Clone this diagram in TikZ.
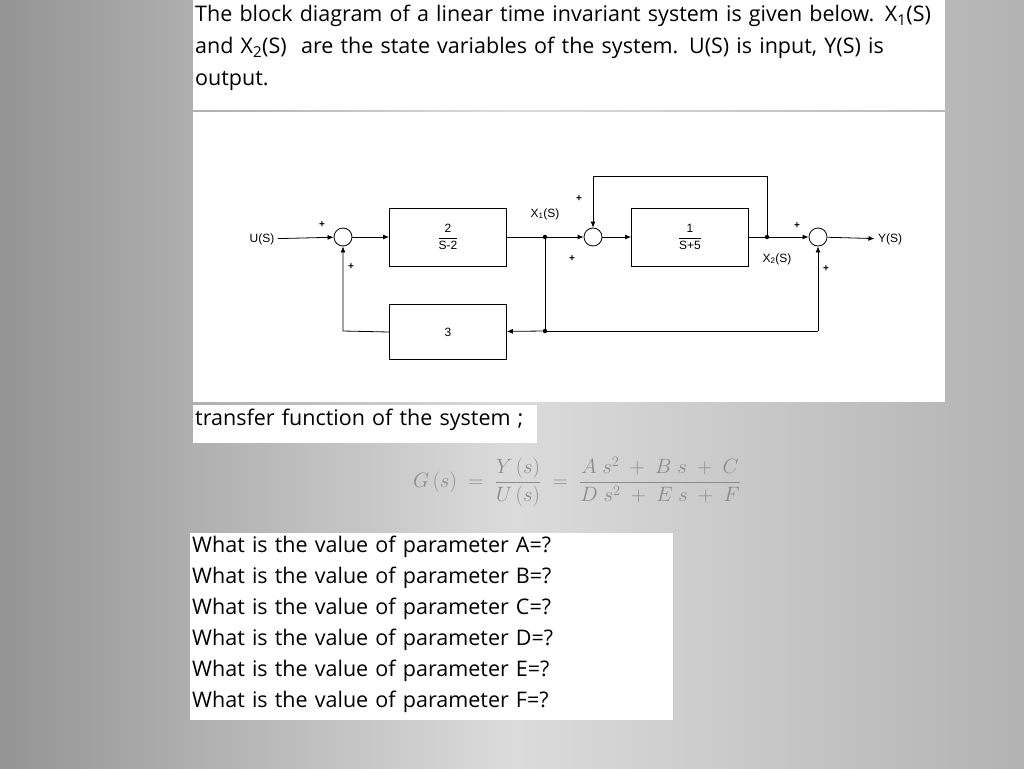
\documentclass[tikz,border=0pt]{standalone}
\usepackage{fontspec}
\setmainfont{Open Sans}
\newfontfamily\arial{Liberation Sans}
\usetikzlibrary{arrows.meta}
\newcommand{\blkfrac}[2]{$\displaystyle\frac{\mbox{\arial #1}}{\mbox{\arial #2}}$}
\begin{document}
\begin{tikzpicture}[x=1pt,y=-1pt,
 blk/.style={draw,line width=0.8pt,minimum width=117pt,minimum height=58pt,font=\arial\fontsize{12}{13}\selectfont},
 sumn/.style={draw,circle,line width=0.8pt,minimum size=18pt,inner sep=0pt},
 lab/.style={font=\arial\fontsize{12}{13}\selectfont},
 pl/.style={font=\arial\bfseries\fontsize{10}{10}\selectfont,inner sep=0pt},
 sig/.style={line width=0.8pt,-{Latex[length=6pt,width=5pt]}},
 ln/.style={line width=0.8pt},
 dotn/.style={circle,fill,inner sep=0pt,minimum size=4.5pt},
 wbox/.style={fill=white,draw=none},
 txt/.style={font=\fontsize{21.5}{32}\selectfont,align=left,anchor=north west,inner sep=0pt,text width=760pt}]
\useasboundingbox (0,0) rectangle (1024,768);
\shade[left color=black!42,right color=black!14] (0,0) rectangle (512,768);
\shade[left color=black!14,right color=black!30] (512,0) rectangle (1024,768);
\fill[wbox] (193,0) rectangle (945,110);
\fill[wbox] (193,112) rectangle (945,402);
\fill[wbox] (193,405) rectangle (537,443);
\fill[wbox] (190,533) rectangle (673,720);
\node[txt] (t1) at (195,5) {The block diagram of a linear time invariant system is given below. X\textsubscript{1}(S)\\and X\textsubscript{2}(S)\ \ are the state variables of the system. U(S) is input, Y(S) is\\output.};
\node[txt,text width=340pt] (t2) at (195,409) {transfer function of the system ;};
\node[txt,text width=480pt,font=\fontsize{21.5}{31}\selectfont] (t3) at (192,536) {What is the value of parameter A=?\\What is the value of parameter B=?\\What is the value of parameter C=?\\What is the value of parameter D=?\\What is the value of parameter E=?\\What is the value of parameter F=?};
\node[font=\rmfamily\fontsize{22}{24}\selectfont,text=black!45] (eq) at (577,482) {$\displaystyle G\,(s)\;=\;\frac{Y\,(s)}{U\,(s)}\;=\;\frac{A\;s^2\;+\;B\;s\;+\;C}{D\;s^2\;+\;E\;s\;+\;F}$};
% diagram
\node[lab] (u) at (262,239) {U(S)};
\node[sumn] (s1) at (343,237) {};
\node[blk] (b1) at (448,237) {\blkfrac{2}{S-2}};
\node[dotn] (x1) at (545,237) {};
\node[sumn] (s2) at (593,237) {};
\node[blk] (b2) at (690,237) {\blkfrac{1}{S+5}};
\node[dotn] (x2) at (767,237) {};
\node[sumn] (s3) at (818,237) {};
\node[lab] (y) at (890,239) {Y(S)};
\node[blk,minimum height=55pt] (b3) at (448,332) {3};
\node[dotn] (d3) at (545,331) {};
\coordinate (tl) at (593,176);
\coordinate (tr) at (767,176);
\coordinate (bl) at (343,331);
\coordinate (br) at (818,331);
\draw[sig] (u) -- (s1);
\draw[sig] (s1) -- (b1);
\draw[ln] (b1) -- (x1);
\draw[sig] (x1) -- (s2);
\draw[sig] (s2) -- (b2);
\draw[ln] (b2) -- (x2);
\draw[sig] (x2) -- (s3);
\draw[sig] (s3) -- (y);
\draw[sig] (x2) -- (tr) -- (tl) -- (s2);
\draw[ln] (x1) -- (d3);
\draw[sig] (br) -- (s3);
\draw[ln] (br) -- (d3);
\draw[sig] (d3) -- (b3);
\draw[sig] (b3.west) -- (bl) -- (s1);
\node[lab] (x1l) at (545,214) {X\textsubscript{1}(S)};
\node[lab] (x2l) at (777,259) {X\textsubscript{2}(S)};
\node[pl] at (322,225) {+};
\node[pl] at (351,267) {+};
\node[pl] at (579,199) {+};
\node[pl] at (572,259) {+};
\node[pl] at (797,226) {+};
\node[pl] at (826,269) {+};
\end{tikzpicture}
\end{document}
